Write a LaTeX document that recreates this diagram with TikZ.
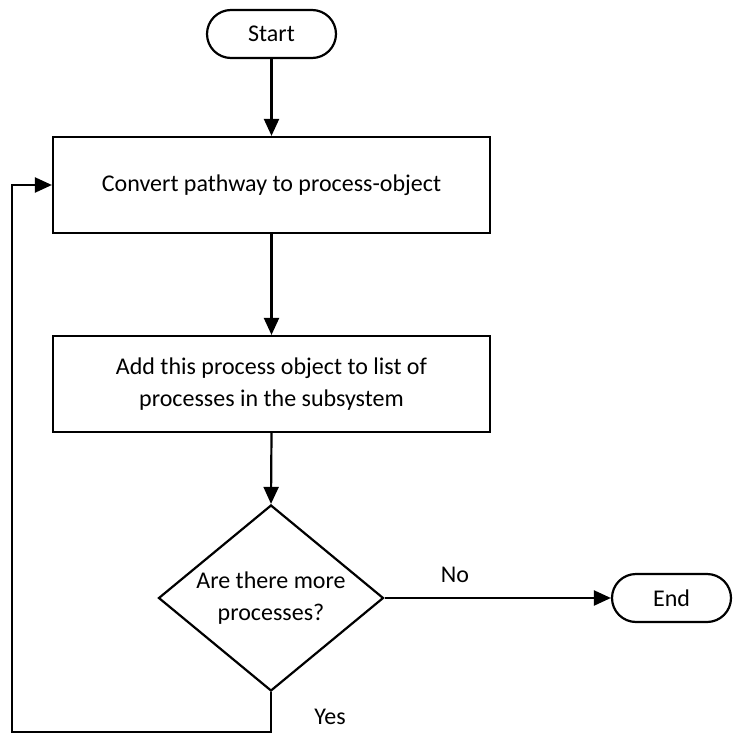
\documentclass[tikz,border=0pt]{standalone}
\usepackage{fontspec}
\setmainfont{Carlito}
\usetikzlibrary{shapes.geometric,arrows.meta}
\begin{document}
\begin{tikzpicture}[x=1pt,y=-1pt,
  every node/.style={font=\fontsize{24}{32}\selectfont, inner sep=0pt, align=center},
  terminal/.style={draw, line width=2.2pt, rounded corners=24pt, minimum width=129pt, minimum height=48pt},
  procbox/.style={draw, line width=2.2pt, minimum width=437pt, minimum height=96pt},
  decision/.style={draw, diamond, line width=2.2pt, minimum width=225pt, minimum height=186pt, aspect=1.21},
  flow/.style={line width=2.2pt, -{Triangle[length=17pt,width=15pt]}},
  branchlabel/.style={anchor=center}]
\useasboundingbox (0,0) rectangle (733,733);

% flowchart nodes
\node[terminal] (start) at (271.5,34) {Start};
\node[procbox] (convert) at (271.5,185) {Convert pathway to process-object};
\node[procbox] (add) at (271.5,384) {Add this process object to list of\\processes in the subsystem};
\node[decision] (more) at (271,598) {Are there more\\processes?};
\node[terminal, minimum width=119pt] (end) at (671.5,598) {End};

% main flow
\draw[flow] (start.south) -- (convert.north);
\draw[flow] (convert.south) -- (add.north);
\draw[flow] (add.south) -- (more.north);
\draw[flow] (more.east) -- (end.west);
\node[branchlabel] (nolabel) at (455,575) {No};

% loop back for further processes
\coordinate (loopcorner) at (12,732);
\draw[flow] (more.south) |- (loopcorner) |- (convert.west);
\node[branchlabel] (yeslabel) at (330,717) {Yes};
\end{tikzpicture}
\end{document}
